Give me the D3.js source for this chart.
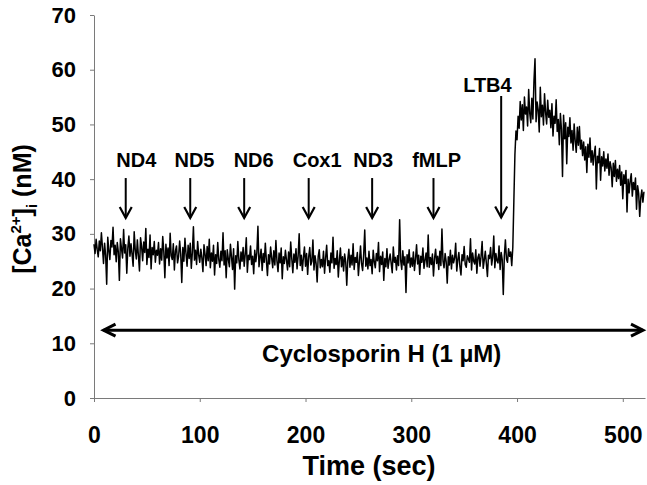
<!DOCTYPE html>
<html><head><meta charset="utf-8">
<script src="https://cdn.jsdelivr.net/npm/d3@7"></script>
<style>
body{margin:0;background:#fff}
svg{display:block}
text{font-family:"Liberation Sans",Arial,Helvetica,sans-serif;font-weight:bold;fill:#000}
</style>
</head><body>
<svg id="chart" width="647" height="485"></svg>
<script>
// [Ca2+]i trace, one sample per second from t = 0 s
const ca = [
28.1,26.4,29.0,27.2,25.8,28.7,26.9,30.2,27.5,24.6,28.3,26.1,20.8,29.4,27.0,25.3,28.8,27.6,31.2,26.2,
27.9,24.9,28.4,26.7,21.5,29.1,27.3,25.6,30.8,26.5,28.0,22.8,27.4,29.6,25.9,28.2,26.3,24.1,30.4,27.1,
25.4,28.9,26.0,23.2,29.3,27.7,25.1,28.5,26.6,31.0,24.4,27.2,25.7,29.8,23.6,27.5,26.2,28.6,24.8,27.0,
26.1,28.4,24.5,27.3,25.2,29.5,26.8,22.0,28.1,25.6,27.4,24.2,30.1,26.0,25.3,28.2,23.4,26.9,27.8,24.7,
25.9,28.7,26.3,21.1,27.5,25.0,29.2,26.4,24.1,27.9,25.5,28.3,23.7,26.6,31.3,25.2,27.0,24.4,28.6,26.1,
24.8,27.2,25.6,23.1,28.0,26.3,24.2,27.7,25.1,29.0,23.8,26.5,25.0,27.9,22.5,26.2,24.6,28.4,25.3,23.9,
26.8,25.1,30.2,24.3,26.9,22.0,27.1,25.4,24.0,28.1,25.8,23.5,27.3,19.9,26.0,24.7,28.6,25.2,23.6,26.7,
25.0,27.5,24.1,26.3,29.3,23.0,26.1,25.3,27.8,24.4,25.9,22.7,27.0,24.9,26.6,31.4,24.0,25.7,27.2,23.3,
26.4,24.8,28.3,25.1,22.4,26.2,24.5,27.6,25.6,23.8,26.9,24.3,28.8,25.0,23.1,26.5,24.7,27.4,21.8,25.8,
24.6,27.0,25.2,23.4,26.7,24.0,28.5,25.5,22.9,26.3,24.8,27.3,23.6,25.9,30.0,24.2,26.1,23.3,25.7,27.6,
24.1,26.4,22.6,25.8,27.5,24.3,25.0,28.9,23.4,26.0,24.6,21.2,25.9,27.1,23.8,25.3,24.0,26.8,22.8,25.6,
27.9,24.2,25.1,23.0,26.5,24.7,29.4,23.7,25.5,24.4,26.9,22.1,25.2,27.4,24.0,25.8,23.2,26.3,24.9,20.6,
25.4,27.2,23.9,26.1,24.3,28.2,23.5,25.7,24.8,26.6,22.4,25.0,27.8,24.5,23.3,26.2,30.7,24.1,25.6,23.6,
26.8,24.2,25.3,22.7,27.0,24.9,23.8,26.4,25.1,28.4,23.1,25.9,24.4,26.7,21.5,25.5,24.0,27.3,23.7,25.2,
26.3,24.6,22.9,27.6,24.8,25.7,23.4,26.0,24.2,32.6,25.1,23.5,26.9,24.3,25.8,19.3,26.2,24.7,27.1,23.9,
25.6,24.1,26.7,23.3,25.4,28.0,24.5,26.1,22.6,25.9,24.8,27.4,23.7,25.2,26.5,24.0,29.8,23.9,25.7,24.4,
26.3,22.3,25.5,27.2,24.6,25.9,23.5,26.8,24.2,30.9,25.0,23.8,26.4,24.9,21.0,25.8,24.3,27.0,23.6,26.1,
24.7,25.6,28.3,23.2,25.3,26.6,24.0,22.5,26.2,25.1,27.7,24.4,23.9,26.0,25.4,24.8,29.1,23.4,26.5,25.0,
24.5,27.1,22.8,25.7,26.3,24.1,25.9,28.6,23.7,25.2,26.8,24.6,22.2,26.1,25.5,27.5,24.3,25.8,29.6,23.8,
26.4,25.1,24.7,27.8,23.5,26.6,25.3,18.9,26.0,28.9,25.4,24.8,27.3,25.9,26.7,24.2,
27.5,36.0,44.5,48.8,47.2,
51.5,49.3,54.2,50.8,53.6,48.9,55.0,51.9,53.2,49.7,56.4,52.1,50.3,54.8,51.0,57.9,62.0,50.5,54.1,52.7,
48.6,56.8,51.4,53.5,49.9,55.6,52.2,50.1,54.4,51.3,
52.6,49.4,53.8,47.9,51.5,50.2,54.5,48.7,50.9,46.3,52.0,49.1,40.5,51.7,47.4,50.3,42.8,49.5,47.8,51.2,
46.6,48.9,45.3,50.1,47.0,44.9,49.5,46.2,49.6,45.5,
47.1,44.3,46.8,43.5,45.9,41.2,46.4,44.0,47.5,43.1,45.2,42.6,44.7,46.0,38.2,44.2,43.0,45.6,39.8,44.1,
42.4,45.0,41.5,43.7,42.0,44.6,40.7,43.2,42.1,38.6,
42.9,40.5,43.4,39.6,41.8,40.1,42.5,38.9,41.3,36.4,40.8,39.2,41.6,34.0,40.0,37.5,39.7,41.0,36.9,39.4,
38.1,40.2,34.5,38.8,37.4,33.2,36.6,38.0,35.8,37.7
];
const sampleStepSec = 1;

const xTicks = [0, 100, 200, 300, 400, 500];
const yTicks = [0, 10, 20, 30, 40, 50, 60, 70];
const xTitle = "Time (sec)";

// stimulus annotations (values read in data units)
const stimLabels     = ["ND4", "ND5", "ND6", "Cox1", "ND3", "fMLP", "LTB4"];
const stimTimes      = [30, 91, 142, 203, 263, 321, 385];
const stimLabelTimes = [40, 95, 151, 211, 264, 324, 372];
const stimArrowFrom  = [40.2, 40.2, 40.2, 40.2, 40.2, 40.2, 55.2];
const stimArrowTo    = [32.9, 32.9, 32.9, 32.9, 32.9, 32.9, 33.0];
const stimLabelLevel = [42.2, 42.2, 42.2, 42.2, 42.2, 42.2, 55.9];

// treatment bar
const treatLabel = "Cyclosporin H (1 \u00B5M)";
const treatStart = 9, treatEnd = 521, treatLevel = 12.4, treatLabelLevel = 6.5, treatLabelTime = 272;

const svg = d3.select("#chart");
const x = d3.scaleLinear().domain([0, 521]).range([94, 645]);
const y = d3.scaleLinear().domain([0, 70]).range([398, 15]);

// axes
const gx = svg.append("g").attr("transform", `translate(0,${y(0)})`)
  .call(d3.axisBottom(x).tickValues(xTicks).tickSize(4).tickSizeOuter(0).tickPadding(25));
gx.selectAll("text").style("font-size", "23px");
const gy = svg.append("g").attr("transform", `translate(${x(0)},0)`)
  .call(d3.axisLeft(y).tickValues(yTicks).tickSize(4).tickSizeOuter(0).tickPadding(14));
gy.selectAll("text").style("font-size", "22px");
svg.selectAll(".domain, .tick line").attr("stroke", "#7a7a7a").attr("stroke-width", 1);

// trace
const line = d3.line().x((d, i) => x(i * sampleStepSec)).y(d => y(d));
svg.append("path").datum(ca).attr("d", line)
  .attr("fill", "none").attr("stroke", "#000").attr("stroke-width", 1.5).attr("stroke-linejoin", "round");

// stimulus arrows
stimLabels.forEach((lab, i) => {
  const ax = x(stimTimes[i]);
  const y0 = y(stimArrowFrom[i]), y1 = y(stimArrowTo[i]);
  svg.append("line").attr("x1", ax).attr("x2", ax).attr("y1", y0).attr("y2", y1)
    .attr("stroke", "#000").attr("stroke-width", 2);
  svg.append("path").attr("d", `M${ax-6},${y1-11}L${ax},${y1}L${ax+6},${y1-11}`)
    .attr("fill", "none").attr("stroke", "#000").attr("stroke-width", 2.2);
  svg.append("text").attr("x", x(stimLabelTimes[i])).attr("y", y(stimLabelLevel[i]))
    .attr("text-anchor", "middle").style("font-size", "20px").text(lab);
});

// treatment double arrow
const ty = y(treatLevel), tx0 = x(treatStart), tx1 = x(treatEnd) - 2;
svg.append("line").attr("x1", tx0).attr("x2", tx1).attr("y1", ty).attr("y2", ty)
  .attr("stroke", "#000").attr("stroke-width", 3);
svg.append("path").attr("d", `M${tx0+12},${ty-6}L${tx0},${ty}L${tx0+12},${ty+6}`)
  .attr("fill", "none").attr("stroke", "#000").attr("stroke-width", 3);
svg.append("path").attr("d", `M${tx1-12},${ty-6}L${tx1},${ty}L${tx1-12},${ty+6}`)
  .attr("fill", "none").attr("stroke", "#000").attr("stroke-width", 3);
svg.append("text").attr("x", x(treatLabelTime)).attr("y", y(treatLabelLevel))
  .attr("text-anchor", "middle").style("font-size", "24px").text(treatLabel);

// axis titles
svg.append("text").attr("x", 369).attr("y", 475).attr("text-anchor", "middle")
  .style("font-size", "27px").text(xTitle);
const yt = svg.append("text").attr("transform", "translate(31,209) rotate(-90)")
  .attr("text-anchor", "middle").style("font-size", "25px");
yt.append("tspan").text("[Ca");
yt.append("tspan").attr("dy", -10).style("font-size", "15px").text("2+");
yt.append("tspan").attr("dy", 10).text("]");
yt.append("tspan").attr("dy", 6).style("font-size", "15px").text("i");
yt.append("tspan").attr("dy", -6).text(" (nM)");
</script>
</body></html>
